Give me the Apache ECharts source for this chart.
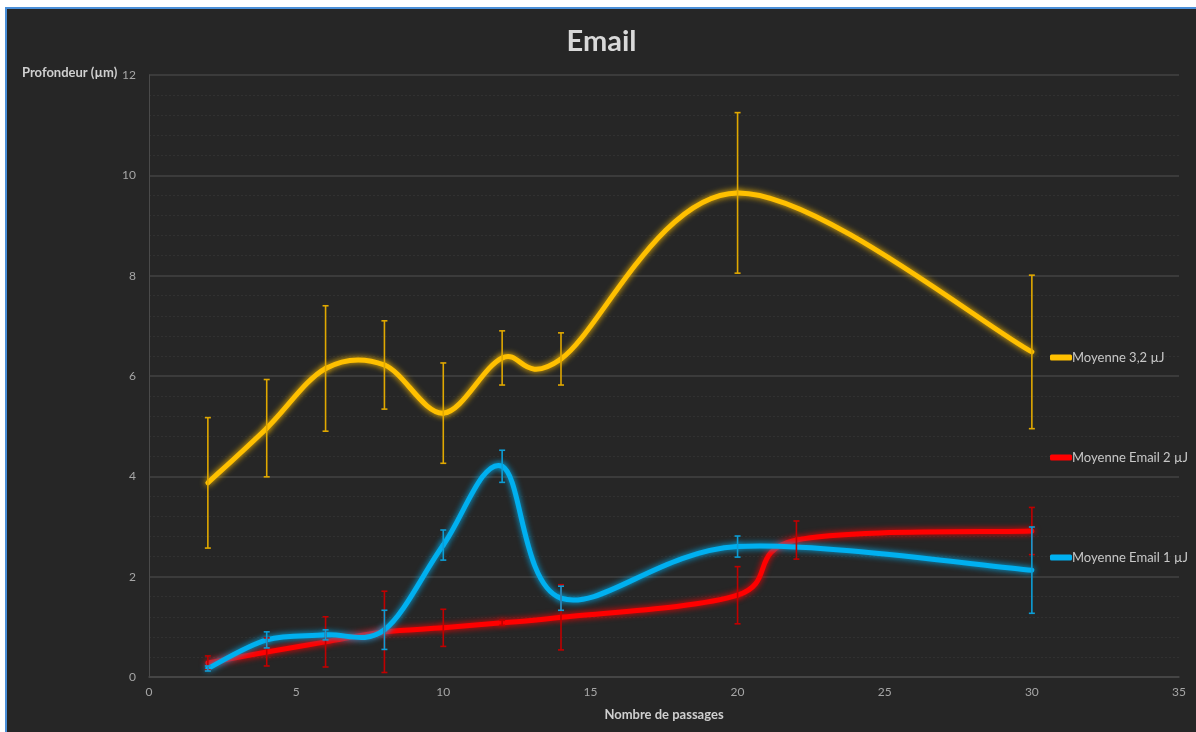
<!DOCTYPE html>
<html>
<head>
<meta charset="utf-8">
<script src="https://cdn.jsdelivr.net/npm/echarts@6/dist/echarts.min.js"></script>
<style>
html,body{margin:0;padding:0;background:#ffffff;width:1196px;height:732px;overflow:hidden;}
#frame{position:absolute;left:5px;top:7px;width:1189px;height:723px;border-left:2px solid #4a8fd8;border-top:2px solid #4a8fd8;background:#262626;}
#chart{width:1189px;height:723px;}
</style>
</head>
<body>
<div id="frame"><div id="chart"></div></div>
<script>
// ---- data ----
const titleText = 'Email';
const yAxisName = 'Profondeur (µm)';
const xAxisName = 'Nombre de passages';
const seriesNames = ['Moyenne 3,2 µJ', 'Moyenne Email 2 µJ', 'Moyenne Email 1 µJ'];

const x32 = [2, 4, 6, 8, 10, 12, 14, 20, 30];
const y32 = [3.87, 4.96, 6.15, 6.22, 5.26, 6.36, 6.34, 9.65, 6.48];
const e32 = [1.30, 0.97, 1.25, 0.88, 1.00, 0.54, 0.52, 1.60, 1.53];

const x2 = [2, 4, 6, 8, 10, 12, 14, 20, 22, 30];
const y2 = [0.28, 0.50, 0.70, 0.90, 0.98, 1.08, 1.19, 1.63, 2.73, 2.91];
const e2 = [0.14, 0.28, 0.50, 0.81, 0.37, 0.05, 0.65, 0.57, 0.38, 0.47];

const x1 = [2, 4, 6, 8, 10, 12, 14, 20, 30];
const y1 = [0.17, 0.74, 0.84, 0.94, 2.63, 4.20, 1.57, 2.60, 2.13];
const e1 = [0.05, 0.16, 0.10, 0.39, 0.30, 0.32, 0.24, 0.21, 0.86];

const xTicks = {min: 0, max: 35, interval: 5};
const yTicks = {min: 0, max: 12, interval: 2};

// ---- build ----
const colors = ['#FFC000', '#FF0000', '#00B0F0'];
const errColors = ['#E0A800', '#C00000', '#0C9ED6'];

function pts(xs, ys) { return xs.map((x, i) => [x, ys[i]]); }
function errPts(xs, ys, es) { return xs.map((x, i) => [x, ys[i] - es[i], ys[i] + es[i]]); }

// Smoothed line (Catmull-Rom style, like spreadsheet "smoothed line"), drawn segment by segment
// from the data points mapped through the chart's own axes (api.coord).
function splineSeries(name, data, color) {
  return {
    name: name, type: 'custom', data: data, z: 3, silent: true,
    encode: {x: 0, y: 1},
    itemStyle: {color: color},
    renderItem: function (params, api) {
      const i = params.dataIndex;
      const n = data.length;
      if (i >= n - 1) return null;
      const c = k => api.coord(data[Math.max(0, Math.min(n - 1, k))]);
      const p0 = c(i - 1), p1 = c(i), p2 = c(i + 1), p3 = c(i + 2);
      return {
        type: 'bezierCurve',
        shape: {
          x1: p1[0], y1: p1[1], x2: p2[0], y2: p2[1],
          cpx1: p1[0] + (p2[0] - p0[0]) / 6, cpy1: p1[1] + (p2[1] - p0[1]) / 6,
          cpx2: p2[0] - (p3[0] - p1[0]) / 6, cpy2: p2[1] - (p3[1] - p1[1]) / 6
        },
        style: {stroke: color, fill: null, lineWidth: 5, lineCap: 'round', shadowBlur: 6, shadowColor: color}
      };
    }
  };
}
function errSeries(data, color) {
  return {
    type: 'custom', data: data, z: 4, silent: true,
    encode: {x: 0, y: [1, 2]},
    renderItem: function (params, api) {
      const x = api.value(0);
      const lo = api.coord([x, api.value(1)]);
      const hi = api.coord([x, api.value(2)]);
      const w = 3;
      const st = {stroke: color, lineWidth: 1.6};
      return {type: 'group', children: [
        {type: 'line', shape: {x1: lo[0], y1: lo[1], x2: hi[0], y2: hi[1]}, style: st},
        {type: 'line', shape: {x1: lo[0] - w, y1: lo[1], x2: lo[0] + w, y2: lo[1]}, style: st},
        {type: 'line', shape: {x1: hi[0] - w, y1: hi[1], x2: hi[0] + w, y2: hi[1]}, style: st}
      ]};
    }
  };
}

const font = 'Lato, "Open Sans", sans-serif';
function legend(name, top, color) {
  return {
    data: [{name: name, icon: 'roundRect', itemStyle: {color: color}}], left: 1043, top: top, padding: 0,
    itemWidth: 22, itemHeight: 6, orient: 'vertical',
    textStyle: {color: '#c8c8c8', fontSize: 13, fontFamily: font, padding: [0, 0, 0, -5]}
  };
}

const chart = echarts.init(document.getElementById('chart'));
chart.setOption({
  backgroundColor: '#262626',
  animation: false,
  textStyle: {fontFamily: font},
  title: {text: titleText, left: 'center', top: 13,
    textStyle: {color: '#d9d9d9', fontSize: 29, fontWeight: 'bold', fontFamily: font}},
  graphic: [{type: 'text', left: 15, top: 57,
    style: {text: yAxisName, fill: '#d0d0d0', fontSize: 13, fontWeight: 'bold', fontFamily: font}}],
  legend: [legend(seriesNames[0], 342, colors[0]), legend(seriesNames[1], 442, colors[1]), legend(seriesNames[2], 542, colors[2])],
  grid: {left: 142, right: 17, top: 66, bottom: 55, containLabel: false},
  xAxis: {
    type: 'value', min: xTicks.min, max: xTicks.max, interval: xTicks.interval,
    name: xAxisName, nameLocation: 'middle', nameGap: 31,
    nameTextStyle: {color: '#d0d0d0', fontSize: 13, fontWeight: 'bold', fontFamily: font},
    axisLine: {show: true, lineStyle: {color: '#4a4a4a', width: 1.5}},
    axisTick: {show: false},
    axisLabel: {color: '#a6a6a6', fontSize: 12, margin: 9, fontFamily: font},
    splitLine: {show: false}
  },
  yAxis: {
    type: 'value', min: yTicks.min, max: yTicks.max, interval: yTicks.interval,
    axisLine: {show: true, lineStyle: {color: '#4a4a4a', width: 1}},
    axisTick: {show: false},
    axisLabel: {color: '#a6a6a6', fontSize: 12, margin: 13, fontFamily: font},
    splitLine: {show: true, lineStyle: {color: '#434343', width: 1.5}},
    minorTick: {show: false, splitNumber: 5},
    minorSplitLine: {show: true, lineStyle: {color: '#313131', width: 1, type: [2, 2]}}
  },
  series: [
    splineSeries(seriesNames[0], pts(x32, y32), colors[0]),
    splineSeries(seriesNames[1], pts(x2, y2), colors[1]),
    splineSeries(seriesNames[2], pts(x1, y1), colors[2]),
    errSeries(errPts(x32, y32, e32), errColors[0]),
    errSeries(errPts(x2, y2, e2), errColors[1]),
    errSeries(errPts(x1, y1, e1), errColors[2])
  ]
});
</script>
</body>
</html>
